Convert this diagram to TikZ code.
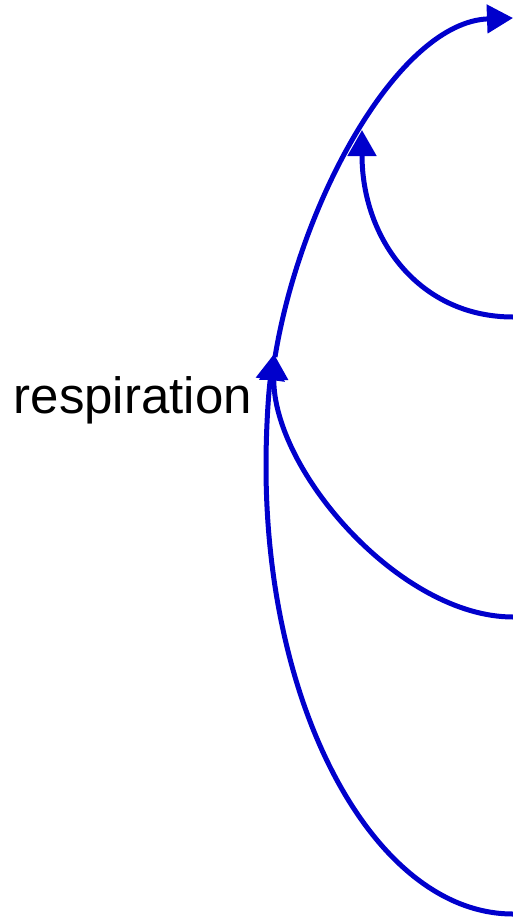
\documentclass[tikz,border=0pt]{standalone}
\usepackage{fontspec}
\setmainfont{Liberation Sans}
\usetikzlibrary{arrows.meta}
\definecolor{flowblue}{RGB}{0,0,204}
\begin{document}
\begin{tikzpicture}[x=1pt,y=-1pt,
  flow/.style={draw=flowblue, line width=5pt, -{Triangle[length=26pt,width=28pt]}},
  lbl/.style={inner sep=0pt, font=\fontsize{51}{61}\selectfont}]
\useasboundingbox (0,0) rectangle (513,919);
\coordinate (a0) at (513,914);
\coordinate (aL) at (266,466);
\coordinate (resp) at (274,354);
\coordinate (b0) at (513,617);
\coordinate (c0) at (275,357);
\coordinate (top) at (513,18);
\coordinate (d0) at (513,317);
\coordinate (dtip) at (362,130);
\node[lbl, anchor=base east] (label) at (252,413) {respiration};
\draw[flow] (a0) .. controls (376.6,914) and (266,713.4) .. (aL)
  .. controls (266,428.4) and (268.6,391) .. (resp);
\draw[flow] (b0) .. controls (400,617) and (273,470) .. (resp);
\draw[flow] (c0) .. controls (301,198) and (400,22) .. (top);
\draw[flow] (d0) .. controls (420,317) and (362,240) .. (dtip);
\end{tikzpicture}
\end{document}
